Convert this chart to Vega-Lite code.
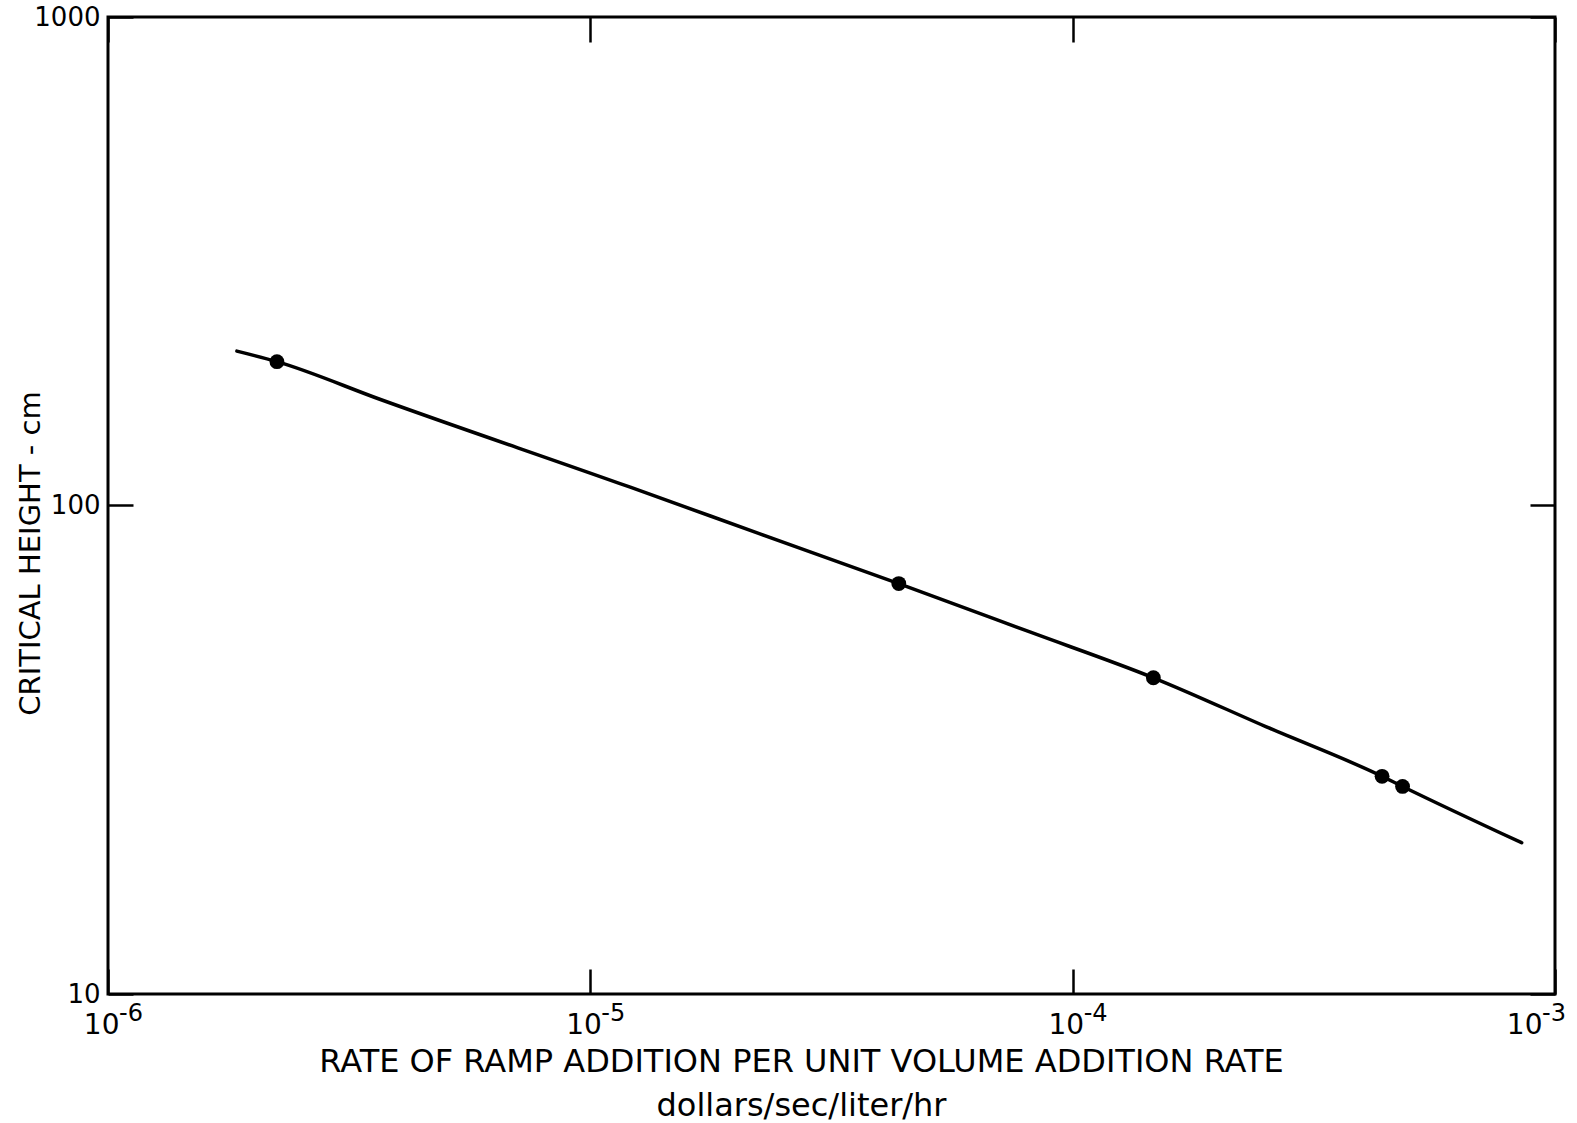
{
  "$schema": "https://vega.github.io/schema/vega-lite/v6.json",
  "autosize": "none",
  "width": 1447,
  "height": 977,
  "padding": {"left": 108, "top": 17, "right": 22, "bottom": 129},
  "background": "white",
  "config": {
    "view": {"stroke": "black", "strokeWidth": 3},
    "font": "DejaVu Sans",
    "axis": {
      "domain": false,
      "grid": false,
      "tickColor": "black",
      "tickWidth": 2.5,
      "tickSize": -25,
      "labelColor": "black",
      "titleColor": "black",
      "labelFont": "DejaVu Sans",
      "titleFont": "DejaVu Sans",
      "labelFontSize": 26,
      "titleFontSize": 26,
      "titleFontWeight": "normal"
    }
  },
  "datasets": {
    "curve": [
      {"rate": 1.85e-6, "height": 207},
      {"rate": 2.24e-6, "height": 197},
      {"rate": 3.66e-6, "height": 165},
      {"rate": 1.21e-5, "height": 109},
      {"rate": 2.24e-5, "height": 87.6},
      {"rate": 4.36e-5, "height": 69.2},
      {"rate": 8.15e-5, "height": 55.1},
      {"rate": 1.47e-4, "height": 44.4},
      {"rate": 2.56e-4, "height": 35.0},
      {"rate": 4.38e-4, "height": 27.9},
      {"rate": 4.83e-4, "height": 26.6},
      {"rate": 8.53e-4, "height": 20.4}
    ],
    "measured": [
      {"rate": 2.24e-6, "height": 197},
      {"rate": 4.36e-5, "height": 69.2},
      {"rate": 1.47e-4, "height": 44.4},
      {"rate": 4.38e-4, "height": 27.9},
      {"rate": 4.83e-4, "height": 26.6}
    ],
    "exponents": [
      {"rate": 1e-6, "height": 10, "exp": "-6"},
      {"rate": 1e-5, "height": 10, "exp": "-5"},
      {"rate": 1e-4, "height": 10, "exp": "-4"},
      {"rate": 1e-3, "height": 10, "exp": "-3"}
    ]
  },
  "layer": [
    {
      "data": {"name": "curve"},
      "mark": {"type": "line", "color": "black", "strokeWidth": 3.5, "interpolate": "monotone", "strokeCap": "round", "strokeJoin": "round"},
      "encoding": {
        "x": {
          "field": "rate", "type": "quantitative",
          "scale": {"type": "log", "domain": [1e-6, 1e-3]},
          "axis": {
            "orient": "bottom",
            "values": [1e-6, 1e-5, 1e-4, 1e-3],
            "labelExpr": "'10'",
            "labelFontSize": 28,
            "labelAlign": "right",
            "labelOffset": {"condition": {"test": "datum.value > 5e-4", "value": -13}, "value": 11},
            "labelBaseline": "top",
            "labelPadding": 42,
            "labelFlush": false,
            "labelOverlap": false,
            "title": ["RATE OF RAMP ADDITION PER UNIT VOLUME ADDITION RATE", "dollars/sec/liter/hr"],
            "titleFontSize": 32,
            "titleLineHeight": 44,
            "titleX": 693,
            "titleY": 52,
            "titleBaseline": "top"
          }
        },
        "y": {
          "field": "height", "type": "quantitative",
          "scale": {"type": "log", "domain": [10, 1000]},
          "axis": {
            "orient": "left",
            "values": [10, 100, 1000],
            "format": "d",
            "labelPadding": 33,
            "labelBaseline": "middle",
            "labelFlush": false,
            "labelOverlap": false,
            "title": "CRITICAL HEIGHT - cm",
            "titleFontSize": 29,
            "titleX": -78,
            "titleY": 536,
            "titleAngle": -90,
            "titleAlign": "center",
            "titleBaseline": "middle"
          }
        }
      }
    },
    {
      "data": {"name": "measured"},
      "mark": {"type": "point", "filled": true, "color": "black", "opacity": 1, "size": 220},
      "encoding": {
        "x": {
          "field": "rate", "type": "quantitative",
          "axis": {"orient": "top", "values": [1e-6, 1e-5, 1e-4, 1e-3], "labels": false, "title": null}
        },
        "y": {
          "field": "height", "type": "quantitative",
          "axis": {"orient": "right", "values": [10, 100, 1000], "labels": false, "title": null}
        }
      }
    },
    {
      "data": {"name": "exponents"},
      "transform": [{"filter": "datum.rate < 5e-4"}],
      "mark": {"type": "text", "color": "black", "font": "DejaVu Sans", "fontSize": 24, "align": "left", "baseline": "top", "dx": 11, "dy": 8, "clip": false},
      "encoding": {
        "x": {"field": "rate", "type": "quantitative", "axis": null},
        "y": {"field": "height", "type": "quantitative", "axis": null},
        "text": {"field": "exp"}
      }
    },
    {
      "data": {"name": "exponents"},
      "transform": [{"filter": "datum.rate > 5e-4"}],
      "mark": {"type": "text", "color": "black", "font": "DejaVu Sans", "fontSize": 24, "align": "left", "baseline": "top", "dx": -13, "dy": 8, "clip": false},
      "encoding": {
        "x": {"field": "rate", "type": "quantitative", "axis": null},
        "y": {"field": "height", "type": "quantitative", "axis": null},
        "text": {"field": "exp"}
      }
    }
  ],
  "resolve": {"axis": {"x": "independent", "y": "independent"}}
}
